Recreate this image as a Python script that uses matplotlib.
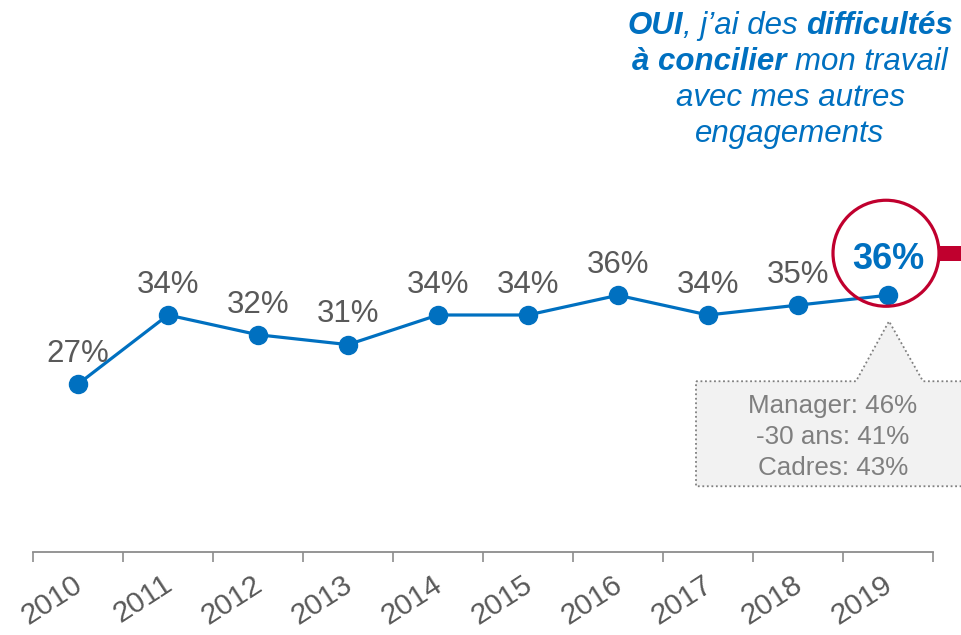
import matplotlib
matplotlib.use("Agg")
import matplotlib.pyplot as plt
from matplotlib import transforms
from matplotlib.patches import Polygon, Circle, Rectangle
import numpy as np

plt.rcParams['font.family'] = ['Liberation Sans', 'DejaVu Sans']

years = ["2010", "2011", "2012", "2013", "2014", "2015", "2016", "2017", "2018", "2019"]
values = [27, 34, 32, 31, 34, 34, 36, 34, 35, 36]
callout_lines = ["Manager: 46%", "-30 ans: 41%", "Cadres: 43%"]

BLUE = "#0070C0"
GRAY = "#595959"
RED = "#C0002E"

W, H = 961, 635
fig = plt.figure(figsize=(W / 100, H / 100), dpi=100)
ax = fig.add_axes([33 / W, (H - 552) / H, 900 / W, 552 / H])
x = np.arange(len(years))
ax.plot(x, values, color=BLUE, lw=2.3, marker='o', ms=13, zorder=3)
ax.set_xlim(-0.5, len(years) - 0.5)
ax.set_ylim(10, 10 + 552 / 9.875)

for s in ['top', 'right', 'left']:
    ax.spines[s].set_visible(False)
ax.spines['bottom'].set_color('#8C8C8C')
ax.spines['bottom'].set_linewidth(1.3)
ax.set_yticks([])
ax.set_xticks(x)
ax.set_xticklabels(years, rotation=33, ha='right', va='top', rotation_mode='anchor',
                   fontsize=21.5, color=GRAY)
ax.tick_params(axis='x', which='major', length=0, pad=13)
shift = transforms.ScaledTranslation(-6 / 100, 0, fig.dpi_scale_trans)
for lab in ax.get_xticklabels():
    lab.set_transform(lab.get_transform() + shift)
ax.set_xticks(np.arange(-0.5, len(years)), minor=True)
ax.tick_params(axis='x', which='minor', length=7, width=1.2, color='#8C8C8C', direction='out')

for i, v in enumerate(values[:-1]):
    ax.annotate(f"{v}%", (x[i], v), xytext=(0, 16), textcoords='offset points',
                ha='center', va='baseline', fontsize=22.5, color=GRAY)
ax.annotate(f"{values[-1]}%", (x[-1], values[-1]), xytext=(0, 19), textcoords='offset points',
            ha='center', va='baseline', fontsize=26, color=BLUE, fontweight='bold', zorder=5)

# transform in pixels relative to last point
pt_tr = transforms.IdentityTransform() + transforms.ScaledTranslation(x[-1], values[-1], ax.transData)

circ = Circle((-2, 42), 53, transform=pt_tr, fill=False, ec=RED, lw=2.3, clip_on=False, zorder=4)
ax.add_patch(circ)
bar = Rectangle((51, 34), 40, 15, transform=pt_tr, fc=RED, ec='none', clip_on=False, zorder=4)
ax.add_patch(bar)

poly = Polygon([(-192, -86), (-32, -86), (1, -26), (35, -86), (90, -86), (90, -191), (-192, -191)],
               closed=True, transform=pt_tr, fc='#F2F2F2', ec='#7F7F7F', lw=1.3,
               linestyle=(0, (1, 1.5)), clip_on=False, zorder=2)
ax.add_patch(poly)
for k, line in enumerate(callout_lines):
    ax.text(-55, -111 - 31 * k, line, transform=pt_tr, ha='center', va='center',
            fontsize=18.7, color='#7F7F7F', zorder=5)

# Title with mixed styles
title_lines = [
    [("OUI", 'bold'), (", j\u2019ai des ", 'normal'), ("difficultés", 'bold')],
    [("à concilier", 'bold'), (" mon travail", 'normal')],
    [("avec mes autres", 'normal')],
    [("engagements", 'normal')],
]
baselines = [34, 70, 106, 142]
cx = 790
fs = 22.5
fig.canvas.draw()
renderer = fig.canvas.get_renderer()

def measure(s, weight):
    t = fig.text(0, 0, s, fontsize=fs, style='italic', fontweight=weight)
    bb = t.get_window_extent(renderer)
    t.remove()
    return bb.width

space_w = fs * 100 / 72 * 0.278
for line, by in zip(title_lines, baselines):
    parts = []
    for s, w in line:
        lead = len(s) - len(s.lstrip(' '))
        trail = len(s) - len(s.rstrip(' '))
        core = s.strip(' ')
        parts.append((core, w, lead, trail, measure(core, w)))
    total = sum(p[4] + (p[2] + p[3]) * space_w for p in parts)
    xpos = cx - total / 2
    for core, w, lead, trail, wid in parts:
        xpos += lead * space_w
        fig.text(xpos / W, (H - by) / H, core, fontsize=fs, style='italic', fontweight=w,
                 color=BLUE, ha='left', va='baseline')
        xpos += wid + trail * space_w

fig.savefig("out.png", dpi=100)
